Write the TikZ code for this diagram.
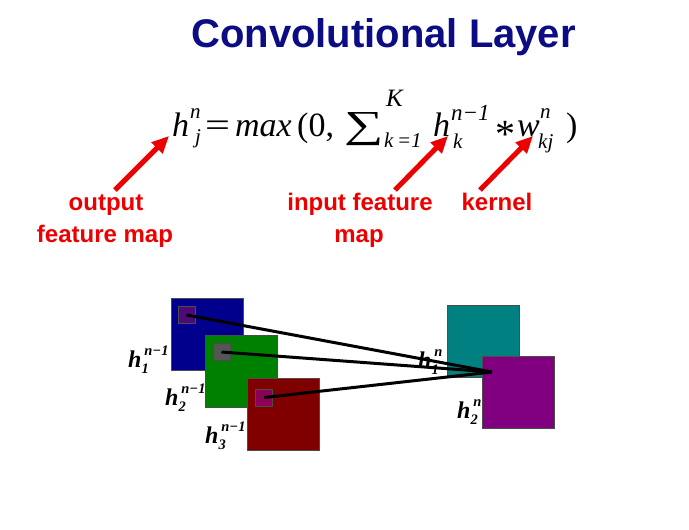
\documentclass[tikz,border=0pt]{standalone}
\usepackage{fontspec}
\setmainfont{Liberation Serif}
\newfontfamily\sansfam{Liberation Sans}
\usetikzlibrary{arrows.meta}
\definecolor{titleblue}{RGB}{12,12,132}
\definecolor{lblred}{RGB}{236,0,0}
\definecolor{sqblue}{RGB}{0,0,140}
\definecolor{sqblueIn}{RGB}{75,10,120}
\definecolor{sqgreen}{RGB}{0,128,0}
\definecolor{sqgreenIn}{RGB}{85,85,85}
\definecolor{sqred}{RGB}{128,0,0}
\definecolor{sqredIn}{RGB}{140,0,85}
\definecolor{sqteal}{RGB}{0,128,128}
\definecolor{sqpurple}{RGB}{128,0,128}
\newcommand\supsub[2]{\begingroup\setbox0=\hbox{\kern0.12em#1}\setbox2=\hbox{#2}\dimen0=\wd0 \ifdim\wd2>\dimen0 \dimen0=\wd2 \fi\rlap{\raisebox{0.5em}{\box0}}\rlap{\raisebox{-0.27em}{\box2}}\kern\dimen0\endgroup}
\newcommand\lsmall{\fontsize{14.5}{14.5}\selectfont}
\tikzset{
  eqbig/.style={font=\fontsize{34}{34}\selectfont\itshape, inner sep=0, anchor=base west},
  eqrm/.style={font=\fontsize{34}{34}\selectfont, inner sep=0, anchor=base west},
  eqsmall/.style={font=\fontsize{21}{21}\selectfont\itshape, inner sep=0, anchor=base west},
  redlbl/.style={font=\sansfam\bfseries\fontsize{24}{24}\selectfont, text=lblred, inner sep=0, anchor=base},
  redarrow/.style={draw=lblred, line width=5pt, -{Triangle[length=17pt,width=15pt]}},
  sq/.style={draw=black!70, line width=0.6pt, minimum size=72pt, inner sep=0},
  insq/.style={draw=black!70, line width=0.5pt, minimum size=17pt, inner sep=0},
  mapname/.style={font=\fontsize{24}{24}\selectfont\bfseries\itshape, inner sep=0, anchor=base west},
  link/.style={draw=black, line width=3pt}
}
\begin{document}
\begin{tikzpicture}[x=1pt,y=-1pt]
\useasboundingbox[fill=white] (0,0) rectangle (689,530);
% title
\node[font=\sansfam\bfseries\fontsize{40}{40}\selectfont, text=titleblue, inner sep=0, anchor=base] (title) at (383.5,47) {Convolutional Layer};
% formula
\node[eqbig] (hj) at (172,136) {h};
\node[eqsmall] (hjn) at (190,118) {n};
\node[eqsmall] (hjj) at (195,143) {j};
\node[eqrm] (eq) at (205,136) {\scalebox{1.3}[1]{=}};
\node[eqbig] (max) at (235,136) {max};
\node[eqrm] (lpar) at (297,136) {(0,};
\node[font=\fontsize{46}{46}\selectfont, inner sep=0, anchor=base west] (sum) at (344,137.5) {\scalebox{1.2}[0.83]{∑}};
\node[font=\fontsize{25}{25}\selectfont\itshape, inner sep=0, anchor=base west] (sumK) at (386,106) {K};
\node[eqsmall] (sumk) at (384,147) {k\,=1};
\node[eqbig] (hk) at (433,136) {h};
\node[font=\fontsize{23}{23}\selectfont\itshape, inner sep=0, anchor=base west] (hkn) at (451,120) {n−1};
\node[eqsmall] (hkk) at (453,148) {k};
\node[font=\fontsize{40}{40}\selectfont, inner sep=0, anchor=base west] (ast) at (495,147) {*};
\node[eqbig] (w) at (517,136) {w};
\node[eqsmall] (wn) at (540,118) {n};
\node[eqsmall] (wkj) at (538,148) {kj};
\node[eqrm] (rpar) at (566,136) {)};
% red labels
\node[redlbl] (out1) at (106,210) {output};
\node[redlbl] (out2) at (105,242) {feature map};
\node[redlbl] (in1) at (360,210) {input feature};
\node[redlbl] (in2) at (359,242) {map};
\node[redlbl] (ker) at (497,210) {kernel};
\coordinate (a1s) at (115,190);
\coordinate (a1e) at (169,136);
\coordinate (a2s) at (395,190);
\coordinate (a2e) at (448,136);
\coordinate (a3s) at (480,190);
\coordinate (a3e) at (533,136);
\draw[redarrow] (a1s) -- (a1e);
\draw[redarrow] (a2s) -- (a2e);
\draw[redarrow] (a3s) -- (a3e);
% input maps
\node[sq, fill=sqblue] (m1) at (207,334) {};
\node[insq, fill=sqblueIn] (k1) at (186.5,315) {};
\node[sq, fill=sqgreen] (m2) at (241,371) {};
\node[insq, fill=sqgreenIn] (k2) at (221.5,352) {};
\node[sq, fill=sqred] (m3) at (283.5,414) {};
\node[insq, fill=sqredIn] (k3) at (264,397.5) {};
% output maps
\node[sq, fill=sqteal] (o1) at (483,341) {};
\node[sq, fill=sqpurple] (o2) at (518,392.5) {};
\coordinate (conv) at (492,372);
\draw[link] (k1.center) -- (conv);
\draw[link] (k2.center) -- (conv);
\draw[link] (k3.center) -- (conv);
% labels
\node[mapname] (l1) at (128,367) {h\supsub{\lsmall n−1}{\lsmall 1}};
\node[mapname] (l2) at (165,405) {h\supsub{\lsmall n−1}{\lsmall 2}};
\node[mapname] (l3) at (205,443) {h\supsub{\lsmall n−1}{\lsmall 3}};
\node[mapname] (r1) at (418,368) {h\supsub{\lsmall n}{\lsmall 1}};
\node[mapname] (r2) at (457,418) {h\supsub{\lsmall n}{\lsmall 2}};
\end{tikzpicture}
\end{document}
